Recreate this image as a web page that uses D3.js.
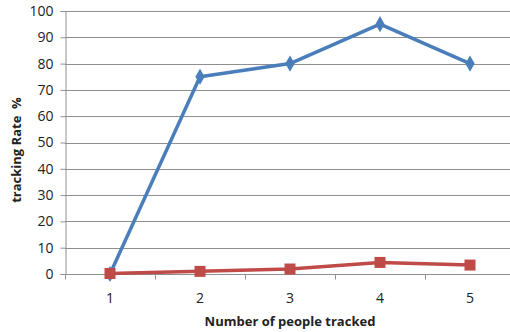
<!DOCTYPE html>
<html>
<head>
<meta charset="utf-8">
<script src="https://cdn.jsdelivr.net/npm/d3@7"></script>
<style>
  html, body { margin: 0; padding: 0; background: #fff; }
  svg { display: block; }
  text { font-family: "Open Sans", "DejaVu Sans", sans-serif; fill: #222; }
</style>
</head>
<body>
<svg id="chart" width="510" height="332"></svg>
<script>
// Tracking rate (%) by number of people tracked
const categories = ["1", "2", "3", "4", "5"];
const seriesA = [0, 75, 80, 95, 80];
const seriesB = [0.2, 1, 1.9, 4.4, 3.4];
const yTicks = [0, 10, 20, 30, 40, 50, 60, 70, 80, 90, 100];

const svg = d3.select("#chart");
const margin = { left: 65, right: -5, top: 11, bottom: 58 };
const W = 510, H = 332;

const x = d3.scaleBand().domain(categories)
  .range([margin.left, W - margin.right]).padding(0);
const y = d3.scaleLinear().domain([0, 100])
  .range([H - margin.bottom, margin.top]);
const cx = d => x(d) + x.bandwidth() / 2;

// Horizontal gridlines
svg.append("g").selectAll("line").data(yTicks.filter(t => t > 0)).join("line")
  .attr("x1", margin.left).attr("x2", W)
  .attr("y1", d => Math.round(y(d)) + 0.5).attr("y2", d => Math.round(y(d)) + 0.5)
  .attr("stroke", "#8f8f8f").attr("stroke-width", 1);

// Y axis
const yAxis = svg.append("g")
  .attr("transform", `translate(${margin.left + 0.5},0)`)
  .call(d3.axisLeft(y).tickValues(yTicks).tickSize(5).tickPadding(7));
yAxis.select(".domain").attr("stroke", "#8f8f8f");
yAxis.selectAll(".tick line").attr("stroke", "#8f8f8f");
yAxis.selectAll(".tick text").attr("font-size", 14).attr("fill", "#222")
  .style("font-family", "'Open Sans', sans-serif");

// X axis with ticks at category boundaries
const xAxisG = svg.append("g")
  .attr("transform", `translate(0,${Math.round(y(0)) + 0.5})`);
xAxisG.append("line").attr("x1", margin.left).attr("x2", W)
  .attr("stroke", "#8f8f8f");
xAxisG.selectAll("line.b").data(categories).join("line").attr("class", "b")
  .attr("x1", d => Math.round(x(d)) + 0.5).attr("x2", d => Math.round(x(d)) + 0.5)
  .attr("y1", 0).attr("y2", 5).attr("stroke", "#8f8f8f");
xAxisG.selectAll("text").data(categories).join("text")
  .attr("x", d => cx(d)).attr("y", 28)
  .attr("text-anchor", "middle").attr("font-size", 14).text(d => d);

// Axis titles
svg.append("text").attr("x", cx("3")).attr("y", 326)
  .attr("text-anchor", "middle").attr("font-size", 13).attr("font-weight", "bold")
  .text("Number of people tracked");
svg.append("text")
  .attr("transform", `translate(21,150) rotate(-90)`)
  .attr("text-anchor", "middle").attr("font-size", 13).attr("font-weight", "bold")
  .attr("xml:space", "preserve")
  .text("tracking Rate  %");

const line = d3.line().x((d, i) => cx(categories[i])).y(d => y(d));

// Series A (blue, diamonds)
svg.append("path").datum(seriesA).attr("d", line)
  .attr("fill", "none").attr("stroke", "#4a7ebb").attr("stroke-width", 3.5)
  .attr("stroke-linejoin", "round");
svg.append("g").selectAll("path").data(seriesA).join("path")
  .attr("d", d3.symbol(d3.symbolDiamond, 75))
  .attr("transform", (d, i) => `translate(${cx(categories[i])},${y(d)})`)
  .attr("fill", "#4a7ebb");

// Series B (red, squares)
svg.append("path").datum(seriesB).attr("d", line)
  .attr("fill", "none").attr("stroke", "#be4b48").attr("stroke-width", 3.5)
  .attr("stroke-linejoin", "round");
svg.append("g").selectAll("rect").data(seriesB).join("rect")
  .attr("x", (d, i) => cx(categories[i]) - 5.5).attr("y", d => y(d) - 5.5)
  .attr("width", 11).attr("height", 11)
  .attr("fill", "#be4b48");
</script>
</body>
</html>
